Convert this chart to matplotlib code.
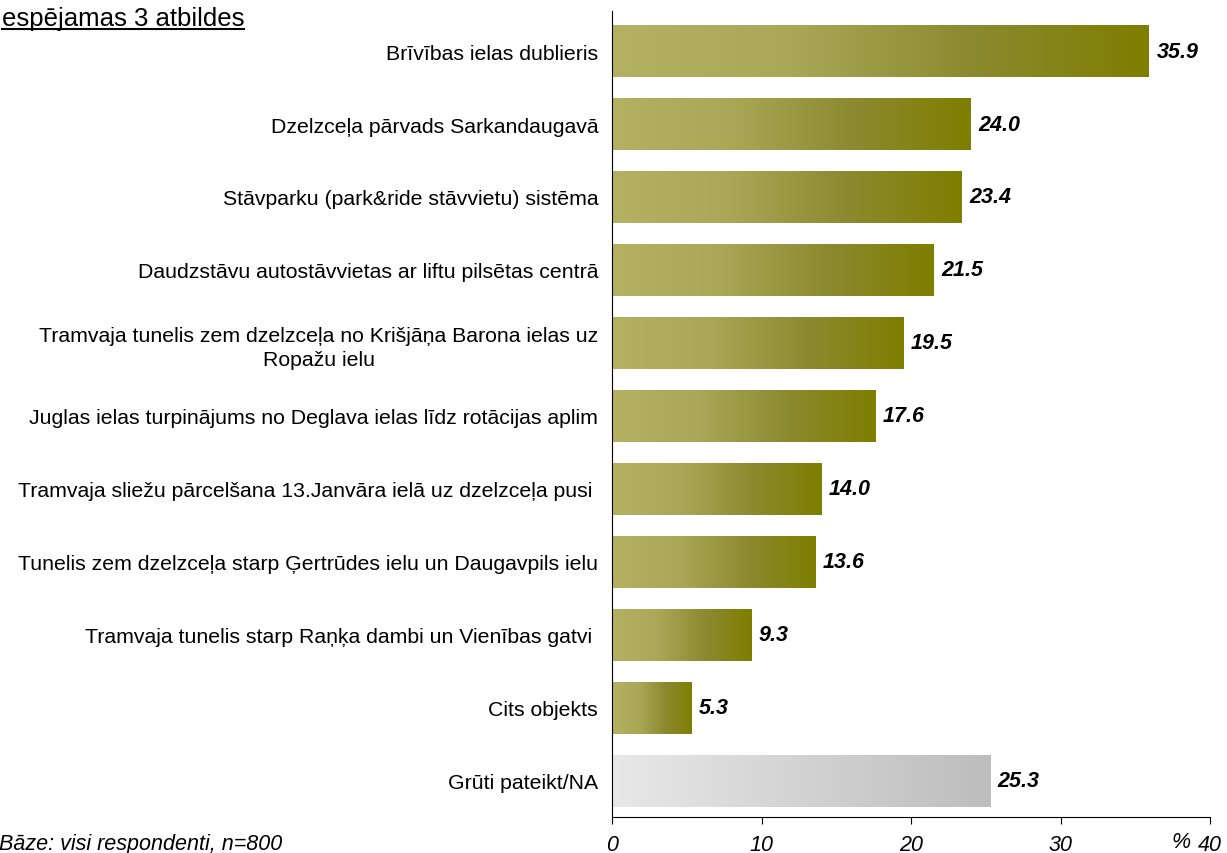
import numpy as np
import matplotlib.pyplot as plt
from matplotlib.colors import LinearSegmentedColormap

plt.rcParams['font.family'] = ['Liberation Sans', 'DejaVu Sans']

labels = [
    'Brīvības ielas dublieris',
    'Dzelzceļa pārvads Sarkandaugavā',
    'Stāvparku (park&ride stāvvietu) sistēma',
    'Daudzstāvu autostāvvietas ar liftu pilsētas centrā',
    'Tramvaja tunelis zem dzelzceļa no Krišjāņa Barona ielas uz\nRopažu ielu',
    'Juglas ielas turpinājums no Deglava ielas līdz rotācijas aplim',
    'Tramvaja sliežu pārcelšana 13.Janvāra ielā uz dzelzceļa pusi ',
    'Tunelis zem dzelzceļa starp Ģertrūdes ielu un Daugavpils ielu',
    'Tramvaja tunelis starp Raņķa dambi un Vienības gatvi ',
    'Cits objekts',
    'Grūti pateikt/NA',
]
values = [35.9, 24.0, 23.4, 21.5, 19.5, 17.6, 14.0, 13.6, 9.3, 5.3, 25.3]
ticks = [0, 10, 20, 30, 40]

olive = LinearSegmentedColormap.from_list('olive', ['#b4b163', '#aaa757', '#8c8a30', '#7e7e00'])
grey = LinearSegmentedColormap.from_list('grey', ['#e8e8e8', '#bdbdbd'])

fig = plt.figure(figsize=(12.27, 8.54), dpi=100)
ax = fig.add_axes([0.4988, 0.042, 0.4875, 0.944])

grad = np.linspace(0, 1, 256).reshape(1, -1)
h = 0.71
pos = np.arange(len(values))
for i, v in enumerate(values):
    cmap = grey if i == len(values) - 1 else olive
    ax.imshow(grad, cmap=cmap, aspect='auto', interpolation='bilinear',
              extent=(0, v, i + h / 2, i - h / 2), zorder=2)
    ax.text(v + 0.5, i, f'{v:.1f}', va='center', ha='left', fontsize=15.5,
            fontweight='bold', fontstyle='italic')

ax.set_xlim(0, 40)
ax.set_ylim(10.5, -0.55)
ax.set_yticks(pos)
ax.set_yticklabels(labels, fontsize=15.3, multialignment='center', linespacing=1.35)
ax.tick_params(axis='y', length=0, pad=10)
ax.set_xticks(ticks)
ax.set_xticklabels([str(t) for t in ticks], fontsize=15.5, fontstyle='italic')
ax.tick_params(axis='x', direction='out', length=5, pad=7)
ax.spines['top'].set_visible(False)
ax.spines['right'].set_visible(False)

fig.text(0.9625, 0.001, '%', fontsize=15.5, fontstyle='italic', ha='center', va='bottom')
fig.text(-0.001, -0.001, 'Bāze: visi respondenti, n=800', fontsize=15.5,
         fontstyle='italic', ha='left', va='bottom')
t = fig.text(0.0015, 0.97, 'espējamas 3 atbildes', fontsize=18.5, ha='left', va='baseline')
fig.canvas.draw()
bb = t.get_window_extent().transformed(fig.transFigure.inverted())
fig.add_artist(plt.Line2D([bb.x0, bb.x1], [0.965, 0.965], color='black', lw=1.5,
                          transform=fig.transFigure))

fig.savefig('out.png', dpi=100)
